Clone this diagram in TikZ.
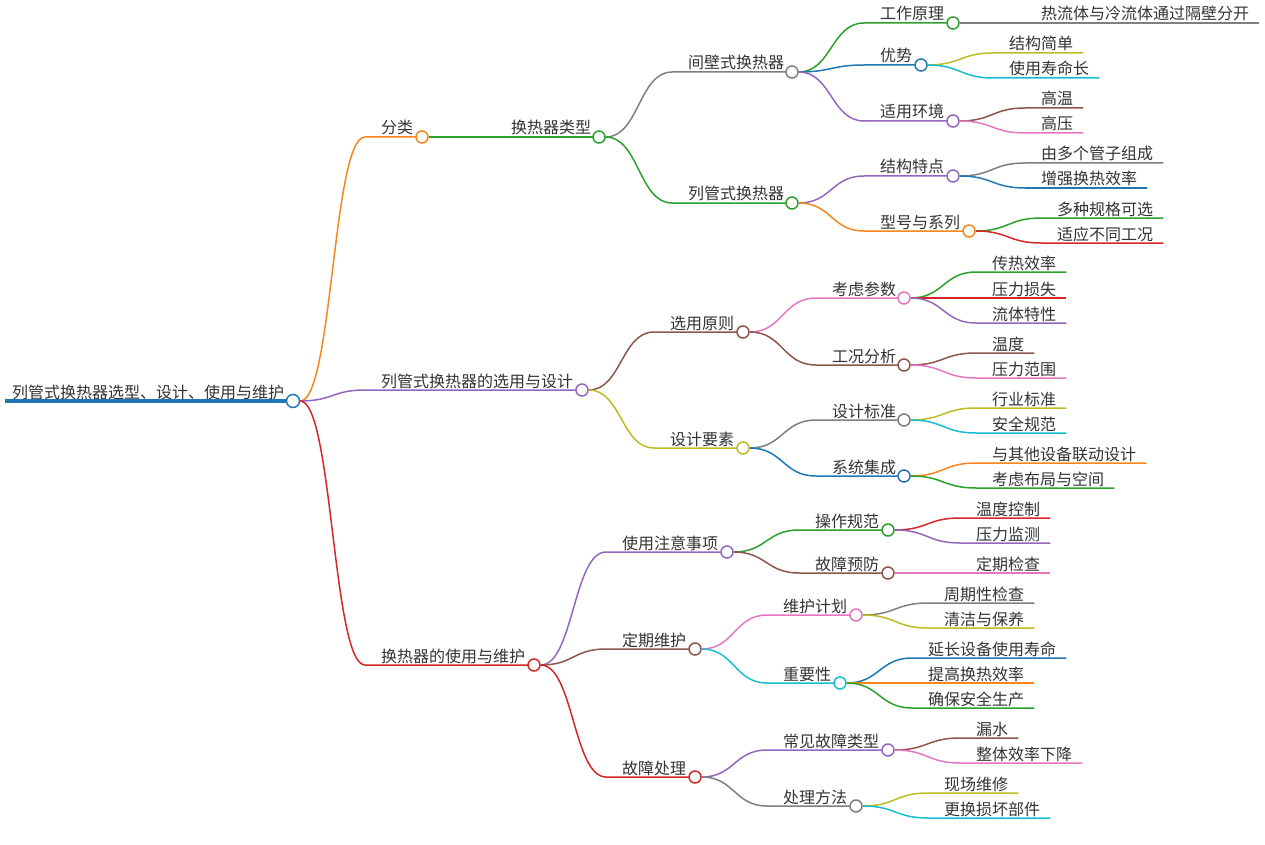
\documentclass[tikz,border=0pt]{standalone}
\usepackage{fontspec}
\newfontfamily\cjk{Noto Sans CJK SC}
\usetikzlibrary{calc}
\definecolor{cblue}{RGB}{31,119,180}
\definecolor{corange}{RGB}{245,135,30}
\definecolor{cgreen}{RGB}{44,160,44}
\definecolor{cred}{RGB}{214,39,40}
\definecolor{cpurple}{RGB}{148,103,189}
\definecolor{cbrown}{RGB}{140,86,75}
\definecolor{cpink}{RGB}{227,119,194}
\definecolor{cgray}{RGB}{127,127,127}
\definecolor{colive}{RGB}{188,189,34}
\definecolor{ccyan}{RGB}{23,190,207}
\begin{document}
\begin{tikzpicture}[x=1pt,y=-1pt,
  topic/.style={anchor=base west,inner sep=0pt,text=black!80,font=\cjk\fontsize{16}{18}\selectfont},
  branch/.style={line width=1.5pt},
  dot/.style={circle,fill=white,line width=1.5pt,minimum size=12pt,inner sep=0pt}]
\useasboundingbox (0,0) rectangle (1265,845);
% root
  \coordinate (sroot) at (5,401);
  \node[topic] (root) at (12,398) {列管式换热器选型、设计、使用与维护};
  \coordinate (kroot) at (293,401);
  \draw[cblue,line width=4pt] (sroot) -- (kroot);
  \node[dot,draw=cblue,minimum size=13pt] (croot) at (kroot) {};
% branches with a dot
  \foreach \nm/\tx/\ly/\cx/\up/\col/\txt in {
    fl/381/137/422/root/corange/分类,
    xy/381/390/582/root/cpurple/列管式换热器的选用与设计,
    sy/381/665/534/root/cred/换热器的使用与维护,
    lx/511/137/599/fl/cgreen/换热器类型,
    jb/688/72/792/lx/cgray/间壁式换热器,
    lg/688/203/792/lx/cgreen/列管式换热器,
    gz/880/23/953/jb/cgreen/工作原理,
    ys/880/65/921/jb/cblue/优势,
    hj/880/121/953/jb/cpurple/适用环境,
    jg/880/176/953/lg/cpurple/结构特点,
    xh/880/231/969/lg/corange/型号与系列,
    yz/670/332/743/xy/cbrown/选用原则,
    sj/670/448/743/xy/colive/设计要素,
    cs/832/298/904/yz/cpink/考虑参数,
    gk/832/365/904/yz/cbrown/工况分析,
    bz/832/420/904/sj/cgray/设计标准,
    jc/832/476/904/sj/cblue/系统集成,
    zy/622/552/727/sy/cpurple/使用注意事项,
    wh/622/649/695/sy/cbrown/定期维护,
    gc/622/777/695/sy/cred/故障处理,
    cz/815/530/888/zy/cgreen/操作规范,
    yf/815/573/888/zy/cbrown/故障预防,
    jh/783/615/856/wh/cpink/维护计划,
    zx/783/683/840/wh/ccyan/重要性,
    gl/783/750/888/gc/cpurple/常见故障类型,
    ff/783/806/856/gc/cgray/处理方法} {
    \coordinate (s\nm) at (\tx-16,\ly);
    \node[topic] (\nm) at (\tx,\ly-3) {\txt};
    \coordinate (k\nm) at (\cx,\ly);
    \draw[branch,\col] let \p1=(c\up.east), \p2=(s\nm) in
      (\p1) .. controls ({(\x1+\x2)/2},\y1) and ({(\x1+\x2)/2},\y2) .. (\p2) -- (k\nm);
    \node[dot,draw=\col] (c\nm) at (k\nm) {};
  }
% leaves
  \foreach \up/\tx/\ly/\col/\txt [count=\i] in {
    gz/1041/23/cgray/热流体与冷流体通过隔壁分开,
    ys/1009/53/colive/结构简单,
    ys/1009/78/ccyan/使用寿命长,
    hj/1041/108/cbrown/高温,
    hj/1041/133/cpink/高压,
    jg/1041/163/cgray/由多个管子组成,
    jg/1041/188/cblue/增强换热效率,
    xh/1057/218/cgreen/多种规格可选,
    xh/1057/243/cred/适应不同工况,
    cs/992/272/cgreen/传热效率,
    cs/992/298/cred/压力损失,
    cs/992/323/cpurple/流体特性,
    gk/992/353/cbrown/温度,
    gk/992/378/cpink/压力范围,
    bz/992/408/colive/行业标准,
    bz/992/433/ccyan/安全规范,
    jc/992/463/corange/与其他设备联动设计,
    jc/992/488/cgreen/考虑布局与空间,
    cz/976/518/cred/温度控制,
    cz/976/543/cpurple/压力监测,
    yf/976/573/cpink/定期检查,
    jh/944/603/cgray/周期性检查,
    jh/944/628/colive/清洁与保养,
    zx/928/658/cblue/延长设备使用寿命,
    zx/928/683/corange/提高换热效率,
    zx/928/708/cgreen/确保安全生产,
    gl/976/738/cbrown/漏水,
    gl/976/763/cpink/整体效率下降,
    ff/944/793/colive/现场维修,
    ff/944/818/ccyan/更换损坏部件} {
    \coordinate (ls\i) at (\tx-16,\ly);
    \node[topic] (leaf\i) at (\tx,\ly-3) {\txt};
    \coordinate (le\i) at ($(leaf\i.base east)+(10pt,-3pt)$);
    \draw[branch,\col] let \p1=(c\up.east), \p2=(ls\i) in
      (\p1) .. controls ({(\x1+\x2)/2},\y1) and ({(\x1+\x2)/2},\y2) .. (\p2) -- (le\i);
  }
\end{tikzpicture}
\end{document}
